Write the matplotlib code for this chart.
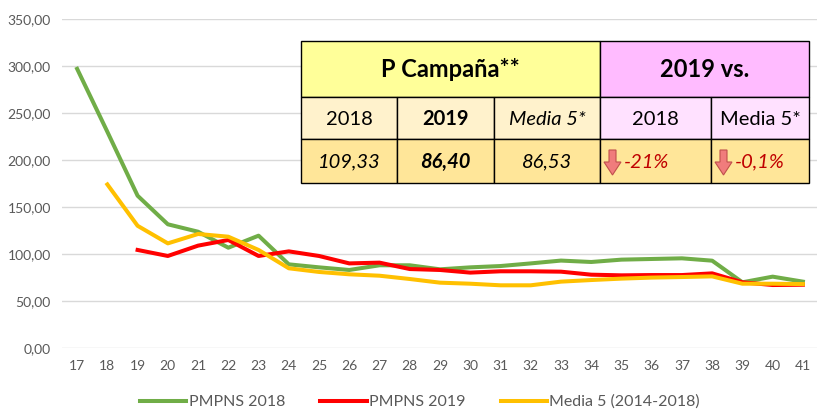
import numpy as np
import matplotlib.pyplot as plt
from matplotlib.patches import Rectangle, Polygon

plt.rcParams['font.family'] = ['Lato', 'DejaVu Sans']

weeks = list(range(17, 42))
pmpns_2018 = [297, 230, 162, 131.6, 123.7, 106.7, 119.5, 89, 85.8, 83, 88, 88,
              83.7, 85.8, 87.2, 90, 93, 91.5, 94, 94.7, 95.4, 92.9, 69.9, 75.9, 70.6]
pmpns_2019 = [None, None, 104.3, 97.9, 108.9, 114.9, 97.9, 102.8, 97.9, 90, 90.8, 84,
              83, 80.2, 81.6, 81.6, 81.2, 78, 77.3, 77.6, 77.6, 79.4, 69.9, 67, 67.3]
media_5 = [None, 174, 130, 111.3, 121.3, 118.4, 104.3, 84.8, 80.9, 78.4, 76.9, 73.4,
           69.5, 68.4, 66.7, 66.7, 70.6, 72.3, 73.8, 74.9, 75.5, 76.2, 68.4, 68.4, 68]

def arr(v):
    return np.array([np.nan if x is None else x for x in v], dtype=float)

W, H = 817, 412
fig = plt.figure(figsize=(W / 100, H / 100), dpi=100)
ax = fig.add_axes([62 / W, 64 / H, (818 - 62) / W, (348 - 19) / H])

ax.plot(weeks, arr(pmpns_2018), color='#70AD47', lw=2.9, label='PMPNS 2018')
ax.plot(weeks, arr(pmpns_2019), color='#FF0000', lw=2.9, label='PMPNS 2019')
ax.plot(weeks, arr(media_5), color='#FFC000', lw=2.9, label='Media 5 (2014-2018)')

ax.set_xlim(16.5, 41.5)
ax.set_ylim(0, 350)
ax.set_yticks(np.arange(0, 351, 50))
ax.set_yticklabels([f'{v:.2f}'.replace('.', ',') for v in np.arange(0, 351, 50)])
ax.set_xticks(weeks)
ax.grid(axis='y', color='#D9D9D9', lw=1)
ax.set_axisbelow(True)
for s in ax.spines.values():
    s.set_visible(False)
ax.tick_params(length=0, colors='#595959', labelsize=10)
ax.tick_params(axis='x', pad=9)
ax.tick_params(axis='y', pad=8)

fig.legend(loc='center', bbox_to_anchor=(0.514, 10 / H), ncol=3, frameon=False,
           fontsize=11.5, handlelength=2.9, handletextpad=0.15, columnspacing=2.2,
           labelcolor='#595959')

# summary table drawn in pixel space
tb = fig.add_axes([0, 0, 1, 1])
tb.set_xlim(0, W)
tb.set_ylim(H, 0)
tb.axis('off')

cols = [301, 397, 494, 600, 711, 809]
rows = [41, 97, 139, 183]
head_left = 'P Campaña**'
head_right = '2019 vs.'
sub_labels = ['2018', '2019', 'Media 5*', '2018', 'Media 5*']
values = ['109,33', '86,40', '86,53', '-21%', '-0,1%']

def cell(x0, x1, y0, y1, fc):
    tb.add_patch(Rectangle((x0, y0), x1 - x0, y1 - y0, fc=fc, ec='black', lw=1))

cell(cols[0], cols[3], rows[0], rows[1], '#FFFF99')
cell(cols[3], cols[5], rows[0], rows[1], '#FFBBFF')
tb.text((cols[0] + cols[3]) / 2, (rows[0] + rows[1]) / 2, head_left,
        ha='center', va='center', fontsize=17, fontweight='bold')
tb.text((cols[3] + cols[5]) / 2, (rows[0] + rows[1]) / 2, head_right,
        ha='center', va='center', fontsize=17, fontweight='bold')

for i in range(5):
    fc = '#FFF2CC' if i < 3 else '#FFE1FF'
    cell(cols[i], cols[i + 1], rows[1], rows[2], fc)
    cell(cols[i], cols[i + 1], rows[2], rows[3], '#FFE699')
    xc = (cols[i] + cols[i + 1]) / 2
    style = 'italic' if i == 2 else 'normal'
    weight = 'bold' if i == 1 else 'normal'
    tb.text(xc, (rows[1] + rows[2]) / 2 + 1, sub_labels[i], ha='center', va='center',
            fontsize=14.5, fontstyle=style, fontweight=weight)
    ym = (rows[2] + rows[3]) / 2 + 1
    if i < 3:
        tb.text(xc, ym, values[i], ha='center', va='center', fontsize=14.5,
                fontstyle='italic', fontweight=weight)
    else:
        ax0 = cols[i] + 4
        arrow = [(ax0 + 5, 150), (ax0 + 12, 150), (ax0 + 12, 162), (ax0 + 17, 162),
                 (ax0 + 8.5, 175), (ax0, 162), (ax0 + 5, 162)]
        tb.add_patch(Polygon(arrow, closed=True, fc='#F07C7C', ec='#C0504D', lw=0.8))
        tb.text(ax0 + 20, ym, values[i], ha='left', va='center', fontsize=14.5,
                fontstyle='italic', color='#C00000')

fig.savefig('out.png', dpi=100)
